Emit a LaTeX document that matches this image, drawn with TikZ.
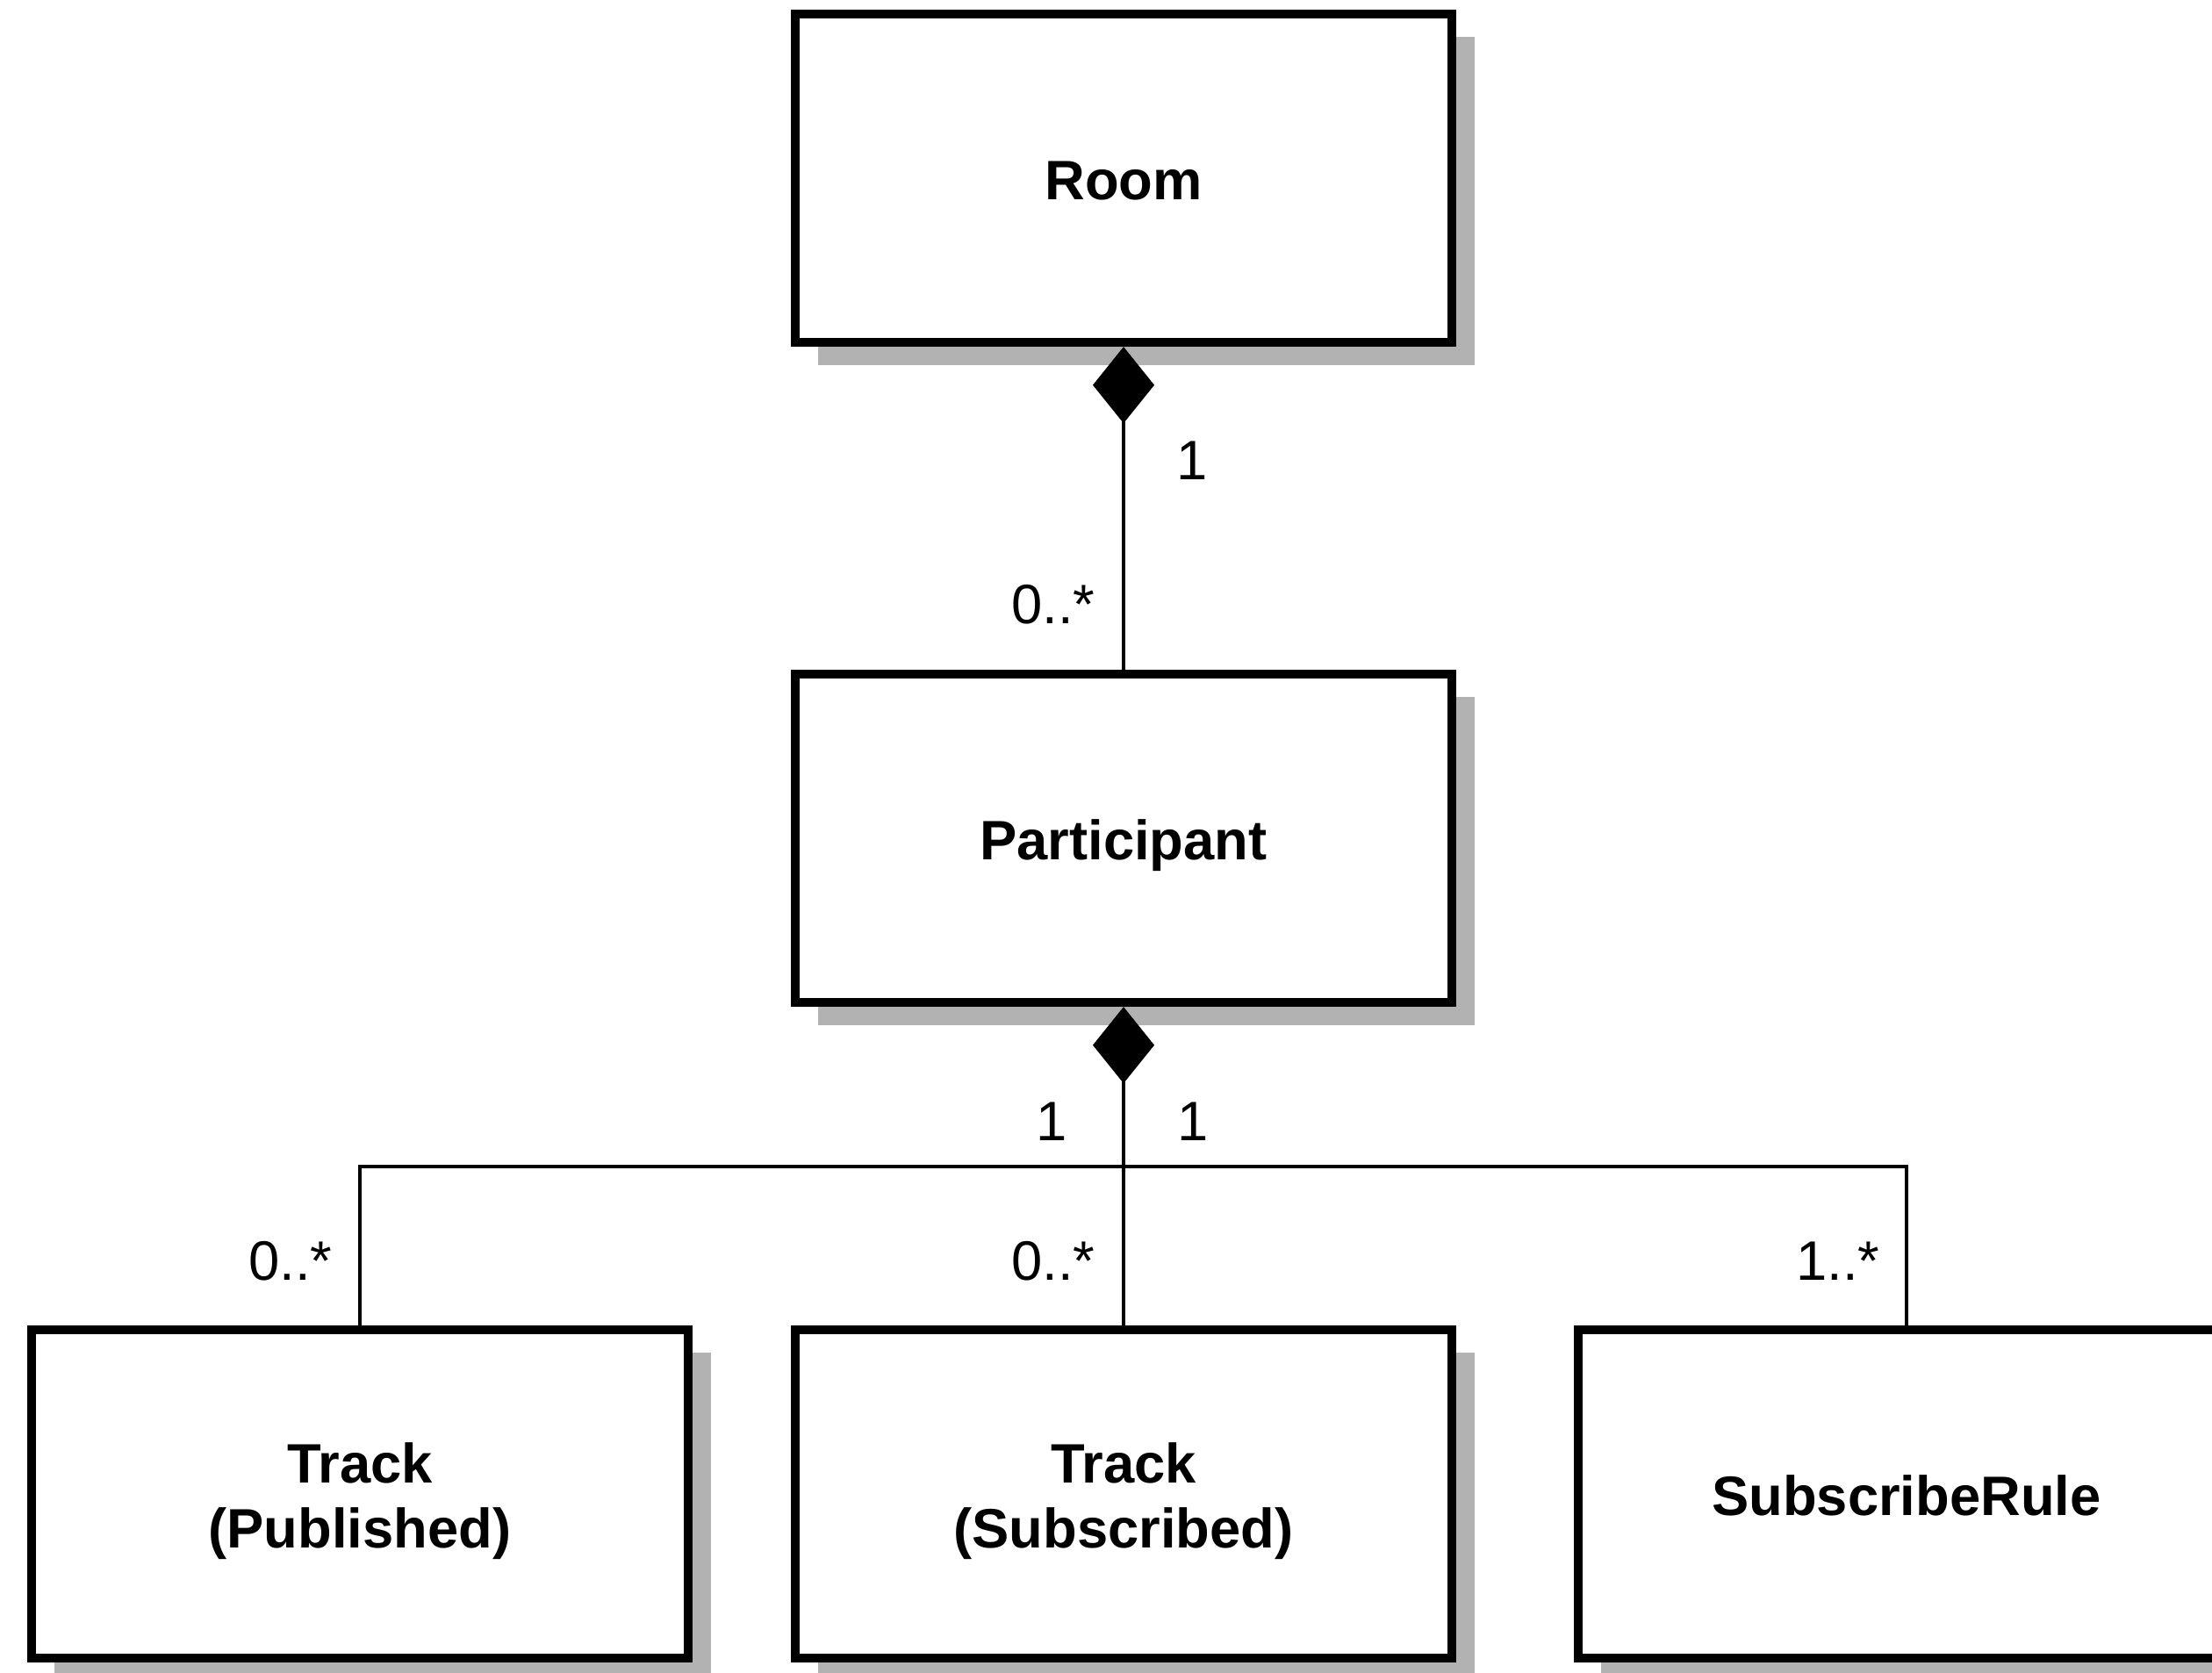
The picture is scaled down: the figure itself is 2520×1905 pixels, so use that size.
\documentclass[tikz,border=0pt]{standalone}
\usepackage{fontspec}
\setmainfont{Liberation Sans}
\usetikzlibrary{arrows.meta,shadows}

% struts that fix the top of the first line and the bottom of the last line
\newcommand\clsTop{\rule{0pt}{17.7pt}}
\newcommand\clsBot{\rule[-4pt]{0pt}{0pt}}

\begin{document}
\begin{tikzpicture}[
  x=0.01cm, y=-0.01cm,
  cls/.style={draw=black, line width=0.10cm, fill=white,
    minimum width=7.47cm, minimum height=3.74cm, inner sep=0pt,
    align=center, font=\fontsize{18pt}{21pt}\selectfont\bfseries,
    drop shadow={shadow xshift=0.26cm, shadow yshift=-0.26cm,
      fill=black!30, opacity=1}},
  assoc/.style={draw=black, line width=0.04cm},
  compo/.style={assoc, {Diamond[length=0.87cm,width=0.70cm]}-},
  mult/.style={font=\fontsize{18pt}{21pt}\selectfont, inner sep=0pt}
]
\useasboundingbox (0,0) rectangle (2520,1905);

% classes
\node[cls] (room) at (1280,203) {\clsTop Room\clsBot};
\node[cls] (part) at (1280,955) {\clsTop Participant\clsBot};
\node[cls] (tpub) at (410,1702) {\clsTop Track\\(Published)\clsBot};
\node[cls] (tsub) at (1280,1702) {\clsTop Track\\(Subscribed)\clsBot};
\node[cls] (rule) at (2172,1702) {\clsTop SubscribeRule\clsBot};

% compositions
\draw[compo] (room.south) -- (part.north);
\draw[compo] (part.south) -- (tsub.north);
\coordinate (busy) at (0,1329);
\coordinate (bus) at (part.south |- busy);
\draw[assoc] (bus) -| (tpub.north);
\draw[assoc] (bus) -| (rule.north);

% multiplicities
\node[mult] (m1) at (1358,525) {1};
\node[mult] (m2) at (1200,689) {0..*};
\node[mult] (m3) at (1198,1278) {1};
\node[mult] (m4) at (1359,1278) {1};
\node[mult] (m5) at (331,1437) {0..*};
\node[mult] (m6) at (1200,1437) {0..*};
\node[mult] (m7) at (2094,1437) {1..*};
\end{tikzpicture}
\end{document}
